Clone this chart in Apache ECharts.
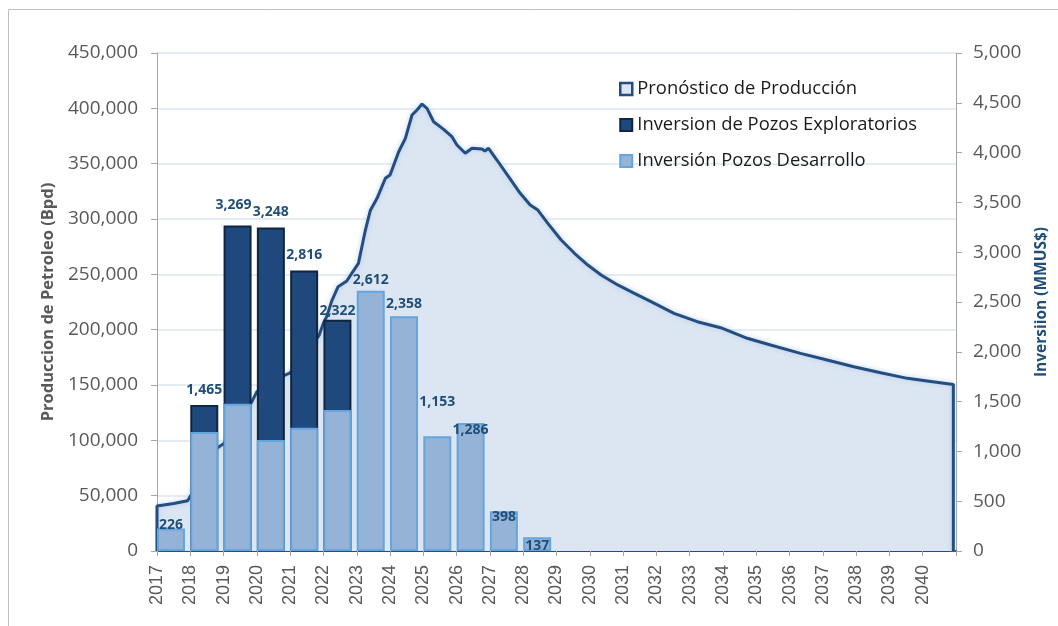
<!DOCTYPE html>
<html>
<head>
<meta charset="utf-8">
<script src="https://cdn.jsdelivr.net/npm/echarts@6/dist/echarts.min.js"></script>
<style>
  html, body { margin: 0; padding: 0; background: #fff; }
  #chart { width: 1058px; height: 626px; }
</style>
</head>
<body>
<div id="chart"></div>
<script>
// años de inversión (barras) y montos en MMUS$
const invYears = [2017, 2018, 2019, 2020, 2021, 2022, 2023, 2024, 2025, 2026, 2027, 2028];
const invDesarrollo = [226, 1195, 1479, 1114, 1238, 1416, 2612, 2358, 1153, 1286, 398, 137];
const invExploratorio = [0, 270, 1790, 2134, 1578, 906, 0, 0, 0, 0, 0, 0];

// pronóstico de producción (Bpd)
const prodYears = [2017, 2017, 2017.5, 2017.92, 2018.05, 2018.2, 2018.5, 2018.85, 2019.0, 2019.5,
  2019.85, 2020.0, 2020.4, 2020.85, 2021.0, 2021.5, 2021.87, 2022.0, 2022.1, 2022.25, 2022.44,
  2022.7, 2022.85, 2023.05, 2023.26, 2023.41, 2023.61, 2023.86, 2024.0, 2024.26, 2024.46,
  2024.66, 2024.81, 2024.96, 2025.11, 2025.31, 2025.61, 2025.86, 2026.01, 2026.26, 2026.46,
  2026.76, 2026.85, 2026.96, 2027.21, 2027.56, 2027.91, 2028.21, 2028.44, 2028.74, 2029.14,
  2029.54, 2029.94, 2030.34, 2030.84, 2031.34, 2031.84, 2032.53, 2033.23, 2033.93, 2034.73,
  2035.43, 2036.33, 2037.13, 2037.93, 2038.74, 2039.54, 2040.3, 2040.92, 2040.92];
const prodValues = [0, 40700, 43000, 45400, 52000, 72000, 86000, 94000, 97000, 118000,
  135000, 144000, 152000, 159000, 161000, 178000, 195000, 206000, 212000, 226000, 238800,
  244000, 250900, 259900, 290000, 308000, 318700, 336800, 339800, 360800, 372900,
  394000, 398500, 403900, 400000, 387900, 381000, 374400, 366900, 359400, 363900,
  363300, 361500, 363900, 353300, 338200, 323200, 312700, 308100, 296100, 281000,
  269000, 258400, 249400, 240400, 232800, 225300, 214800, 207200, 201800, 192200,
  186100, 178600, 172600, 166500, 161100, 156000, 153000, 150500, 0];

const prodTicks = [0, 50000, 100000, 150000, 200000, 250000, 300000, 350000, 400000, 450000];

const fmt = v => v.toLocaleString('en-US');
const barOffset = 0.42;
const invTotal = invYears.map((y, i) => invDesarrollo[i] + invExploratorio[i]);

// separación de cada etiqueta respecto al tope de la barra
const labelDistance = {
  2017: -4, 2018: 8, 2019: 13, 2020: 8, 2021: 9, 2022: 2,
  2023: 4, 2024: 5, 2025: 27, 2026: -14, 2027: -13, 2028: -16
};
const labelShiftX = { 2019: -4 };

const chart = echarts.init(document.getElementById('chart'));

const labelStyle = {
  show: true,
  position: 'top',
  fontFamily: 'Open Sans',
  fontWeight: 'bold',
  fontSize: 14,
  color: '#1f4e79'
};

function barLabel(year, show) {
  return Object.assign({}, labelStyle, {
    show: show,
    distance: labelDistance[year],
    offset: [labelShiftX[year] || 0, 0]
  });
}

const option = {
  animation: false,
  backgroundColor: '#fff',
  graphic: [{
    type: 'rect',
    shape: { x: 8.5, y: 9.5, width: 1100, height: 700 },
    style: { fill: 'none', stroke: '#bfbfbf', lineWidth: 1 },
    z: 0
  }],
  grid: { left: 157, right: 101, top: 53, bottom: 75 },
  legend: {
    orient: 'vertical',
    left: 614,
    top: 75,
    itemWidth: 12,
    itemHeight: 12,
    itemGap: 18,
    textStyle: { fontFamily: 'Open Sans', fontSize: 18.4, color: '#1a1a1a' },
    data: [
      { name: 'Pronóstico de Producción', icon: 'rect',
        itemStyle: { color: '#dce6f2', borderColor: '#254d80', borderWidth: 2.5 } },
      { name: 'Inversion de Pozos Exploratorios', icon: 'rect' },
      { name: 'Inversión Pozos Desarrollo', icon: 'rect' }
    ]
  },
  xAxis: {
    type: 'value',
    min: 2017,
    max: 2041,
    interval: 1,
    splitLine: { show: false },
    axisLine: { lineStyle: { color: '#254d80', width: 2 } },
    axisTick: { length: 5, lineStyle: { color: '#a6a6a6' } },
    axisLabel: {
      rotate: 90,
      margin: 14,
      fontFamily: 'Liberation Sans',
      fontSize: 18,
      color: '#595959',
      formatter: v => (v >= 2041 ? '' : String(v))
    }
  },
  yAxis: [{
    type: 'value',
    min: 0,
    max: 450000,
    interval: 50000,
    name: 'Produccion de Petroleo (Bpd)',
    nameLocation: 'middle',
    nameGap: 91,
    nameTextStyle: { fontFamily: 'Open Sans', fontWeight: 'bold', fontSize: 16.5, color: '#595959' },
    axisLine: { show: true, lineStyle: { color: '#a6a6a6' } },
    axisTick: { show: true, length: 6, lineStyle: { color: '#a6a6a6' } },
    axisLabel: {
      margin: 19,
      fontFamily: 'Open Sans',
      fontSize: 19,
      color: '#595959',
      formatter: v => (prodTicks.includes(v) ? fmt(v) : '')
    },
    splitLine: { lineStyle: { color: '#dce6f2', width: 1.5 } }
  }, {
    type: 'value',
    min: 0,
    max: 5000,
    interval: 500,
    name: 'Inversiion (MMUS$)',
    nameLocation: 'middle',
    nameGap: 78,
    nameRotate: 90,
    nameTextStyle: { fontFamily: 'Open Sans', fontWeight: 'bold', fontSize: 15.5, color: '#1f4e79' },
    axisLine: { show: true, lineStyle: { color: '#a6a6a6' } },
    axisTick: { show: true, length: 6, lineStyle: { color: '#a6a6a6' } },
    axisLabel: {
      margin: 17,
      fontFamily: 'Open Sans',
      fontSize: 19,
      color: '#595959',
      formatter: v => fmt(v)
    },
    splitLine: { show: false }
  }],
  series: [{
    name: 'Pronóstico de Producción',
    type: 'line',
    yAxisIndex: 0,
    z: 1,
    symbol: 'none',
    data: prodYears.map((y, i) => [y, prodValues[i]]),
    lineStyle: {
      color: '#254d80',
      width: 3,
      shadowColor: 'rgba(170,200,235,0.9)',
      shadowBlur: 5
    },
    itemStyle: { color: '#dce6f2', borderColor: '#254d80' },
    areaStyle: { color: '#dce6f2', opacity: 1 }
  }, {
    // la barra oscura llega al total; la de desarrollo se dibuja encima
    name: 'Inversion de Pozos Exploratorios',
    type: 'bar',
    yAxisIndex: 1,
    z: 3,
    barWidth: 28,
    barGap: '-100%',
    itemStyle: { color: '#1f497d', borderColor: '#10253f', borderWidth: 2 },
    data: invYears.map((y, i) => ({ y, i })).filter(d => invExploratorio[d.i] > 0).map(d => ({
      value: [d.y + barOffset, invTotal[d.i]],
      label: barLabel(d.y, true)
    })),
    label: Object.assign({}, labelStyle, {
      formatter: p => fmt(p.value[1])
    })
  }, {
    name: 'Inversión Pozos Desarrollo',
    type: 'bar',
    yAxisIndex: 1,
    z: 4,
    barWidth: 28,
    barGap: '-100%',
    itemStyle: { color: '#95b3d7', borderColor: '#65a5dd', borderWidth: 2 },
    label: Object.assign({}, labelStyle, {
      formatter: p => fmt(p.value[1])
    }),
    data: invYears.map((y, i) => ({
      value: [y + barOffset, invDesarrollo[i]],
      label: barLabel(y, invExploratorio[i] === 0)
    }))
  }]
};

chart.setOption(option);
</script>
</body>
</html>
